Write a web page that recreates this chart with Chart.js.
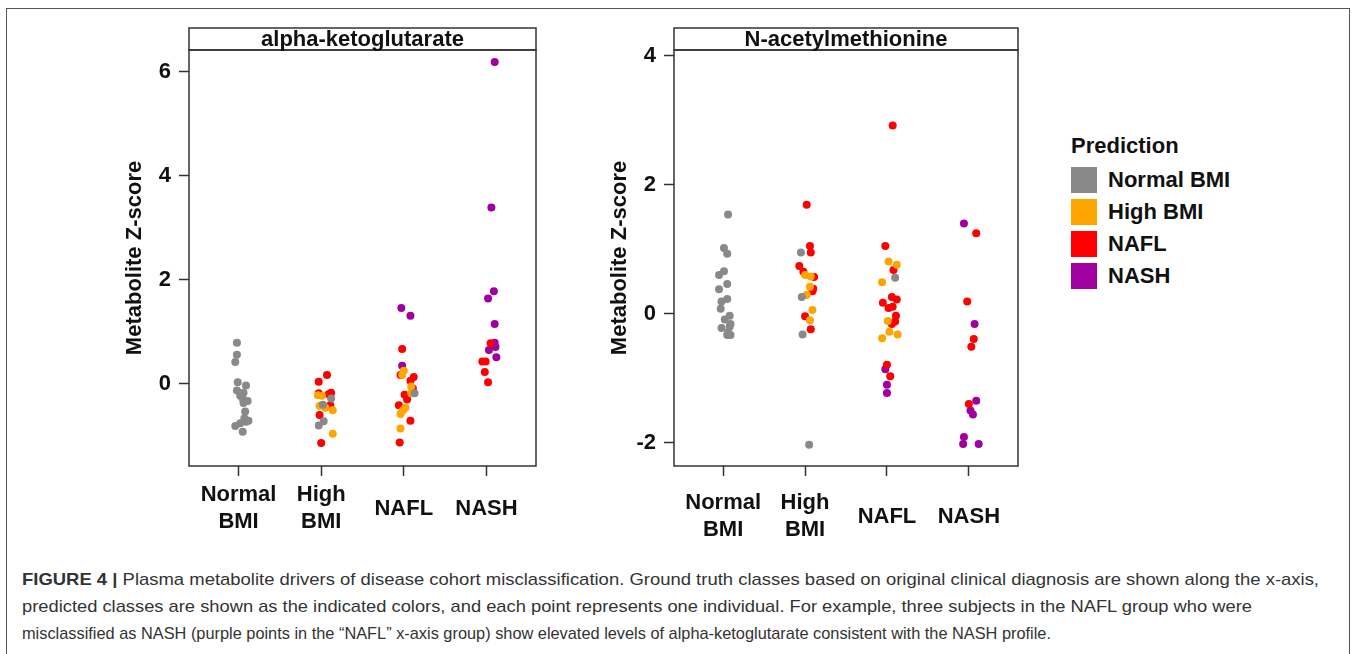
<!DOCTYPE html>
<html>
<head>
<meta charset="utf-8">
<script src="https://cdn.jsdelivr.net/npm/chart.js@4.4.1/dist/chart.umd.min.js"></script>
<style>
  body { margin: 0; background: #fff; width: 1355px; height: 654px; overflow: hidden; position: relative; font-family: "Liberation Sans", Arial, sans-serif; }
  .frame { position: absolute; left: 6px; top: 8px; width: 1342px; height: 700px; border: 1px solid #555; }
  canvas { position: absolute; top: 0; }
  .legend { position: absolute; left: 1071px; top: 0; font-weight: bold; font-size: 22px; color: #111; }
  .legend .ttl { position: absolute; left: 0; top: 133px; white-space: nowrap; }
  .legend .key { position: absolute; left: 0; width: 26px; height: 26px; }
  .legend .lab { position: absolute; left: 37px; white-space: nowrap; line-height: 26px; }
  .caption { position: absolute; left: 22px; top: 566px; font-size: 17px; color: #333; line-height: 27px; }
  .caption div { white-space: nowrap; width: max-content; transform-origin: 0 50%; }
</style>
</head>
<body>
<div class="frame"></div>
<canvas id="akg" width="560" height="560" style="left:0"></canvas>
<canvas id="nam" width="500" height="560" style="left:560px"></canvas>
<div class="legend" id="legend"></div>
<div class="caption" id="caption">
  <div data-w="1297"><b>FIGURE 4 |</b> Plasma metabolite drivers of disease cohort misclassification. Ground truth classes based on original clinical diagnosis are shown along the x-axis,</div>
  <div data-w="1230">predicted classes are shown as the indicated colors, and each point represents one individual. For example, three subjects in the NAFL group who were</div>
  <div data-w="1029">misclassified as NASH (purple points in the “NAFL” x-axis group) show elevated levels of alpha-ketoglutarate consistent with the NASH profile.</div>
</div>
<script>
// ground truth groups along x (1..4), predicted classes as colours
const categories = [['Normal', 'BMI'], ['High', 'BMI'], 'NAFL', 'NASH']
const classes = ['Normal BMI', 'High BMI', 'NAFL', 'NASH']
const classColors = ['#898989', '#ffa500', '#ff0000', '#a000a0']

// alpha-ketoglutarate: [jittered group position, z-score]
const akgNormal = [[0.98,0.79],[0.98,0.56],[0.96,0.42],[0.99,0.03],[1.09,-0.03],[0.98,-0.13],[1.06,-0.17],[1.02,-0.23],[1.05,-0.28],[1.11,-0.33],[1.06,-0.37],[1.08,-0.53],[1.07,-0.66],[1.12,-0.71],[1.09,-0.73],[1.02,-0.76],[0.96,-0.81],[1.05,-0.92],
  [2.12,-0.28],[2.02,-0.40],[2.03,-0.72],[1.97,-0.80],[3.13,-0.18]]
const akgHigh = [[1.96,-0.22],[2.01,-0.23],[1.98,-0.42],[2.05,-0.46],[2.14,-0.51],[2.14,-0.96],
  [3.0,0.25],[2.98,0.17],[3.09,-0.05],[3.09,-0.18],[3.02,-0.46],[2.99,-0.51],[2.96,-0.58],[2.96,-0.86]]
const akgNafl = [[2.07,0.17],[1.97,0.04],[1.97,-0.18],[2.12,-0.17],[2.09,-0.20],[2.11,-0.41],[1.98,-0.60],[2.0,-1.14],
  [2.98,0.67],[2.96,0.17],[3.12,0.13],[3.08,0.06],[3.11,-0.09],[3.01,-0.21],[3.04,-0.30],[2.94,-0.41],[3.08,-0.71],[2.95,-1.13],
  [4.05,0.78],[3.95,0.43],[3.99,0.43],[3.98,0.23],[4.02,0.03]]
const akgNash = [[2.97,1.46],[3.08,1.31],[2.98,0.35],
  [4.10,6.19],[4.06,3.39],[4.09,1.78],[4.02,1.64],[4.10,1.15],[4.10,0.79],[4.11,0.71],[4.03,0.65],[4.12,0.51]]

// N-acetylmethionine
const namNormal = [[1.06,1.54],[1.01,1.02],[1.05,0.93],[1.01,0.66],[0.95,0.60],[1.05,0.46],[0.95,0.38],[1.05,0.23],[0.98,0.19],[0.97,0.08],[1.08,-0.03],[1.02,-0.09],[1.09,-0.16],[1.08,-0.20],[0.98,-0.22],[1.06,-0.29],[1.09,-0.33],[1.05,-0.33],
  [1.95,0.95],[1.96,0.26],[1.97,-0.32],[2.05,-2.03],[3.10,0.56]]
const namHigh = [[2.0,0.60],[2.07,0.58],[2.06,0.42],[2.02,0.29],[2.09,0.06],[2.06,-0.10],
  [3.02,0.81],[3.12,0.76],[2.94,0.49],[3.01,-0.11],[3.03,-0.28],[3.13,-0.32],[2.94,-0.38]]
const namNafl = [[2.02,1.69],[2.06,1.05],[2.07,0.95],[1.93,0.74],[1.98,0.65],[2.11,0.57],[2.10,0.39],[2.09,0.35],[2.0,-0.04],[2.07,-0.24],
  [3.07,2.92],[2.98,1.05],[3.08,0.68],[3.06,0.26],[3.12,0.22],[2.95,0.17],[3.07,0.11],[3.02,0.09],[3.11,-0.03],[3.10,-0.12],[3.06,-0.16],[3.0,-0.79],[3.04,-0.97],
  [4.09,1.25],[3.98,0.19],[4.06,-0.39],[4.03,-0.51],[4.0,-1.40]]
const namNash = [[2.98,-0.86],[3.0,-1.10],[3.0,-1.23],
  [3.94,1.40],[4.07,-0.16],[4.09,-1.35],[4.02,-1.50],[4.05,-1.56],[3.94,-1.91],[3.93,-2.02],[4.12,-2.02]]

const akgTicks = [0, 2, 4, 6]
const namTicks = [-2, 0, 2, 4]

const FONT = "'Liberation Sans', Arial, sans-serif"

const panelFrame = {
    id: 'panelFrame',
    afterDraw(chart, args, opts) {
        const { ctx, chartArea: a } = chart
        ctx.save()
        ctx.strokeStyle = '#333'
        ctx.lineWidth = 1.5
        ctx.strokeRect(a.left, a.top, a.right - a.left, a.bottom - a.top)
        ctx.strokeRect(a.left, a.top - 22, a.right - a.left, 22)
        ctx.fillStyle = '#111'
        ctx.font = 'bold 22px ' + FONT
        ctx.textAlign = 'center'
        ctx.textBaseline = 'middle'
        ctx.fillText(opts.text, (a.left + a.right) / 2, a.top - 10)
        ctx.restore()
    }
}

function makePanel(id, sets, yMin, yMax, yTicks, strip, axisW, titlePad, padRight, xPad) {
    new Chart(document.getElementById(id), {
        type: 'scatter',
        data: {
            datasets: sets.map((pts, i) => ({
                label: classes[i],
                data: pts.map(p => ({ x: p[0], y: p[1] })),
                backgroundColor: classColors[i],
                borderWidth: 0,
                pointRadius: 4,
                pointHoverRadius: 4
            }))
        },
        options: {
            responsive: false,
            animation: false,
            layout: { padding: { top: 50, left: 0, right: padRight, bottom: 0 } },
            plugins: {
                legend: { display: false },
                tooltip: { enabled: false },
                panelFrame: { text: strip }
            },
            scales: {
                x: {
                    type: 'linear',
                    min: 0.4,
                    max: 4.6,
                    afterBuildTicks: s => { s.ticks = [1, 2, 3, 4].map(v => ({ value: v })) },
                    afterFit: s => { s.height = 94 },
                    grid: { drawOnChartArea: false, drawTicks: true, tickLength: 10, tickColor: '#333', tickWidth: 1.5 },
                    border: { display: false },
                    ticks: {
                        callback: v => categories[v - 1],
                        color: '#111',
                        font: { family: FONT, size: 22, weight: 'bold', lineHeight: 1.23 },
                        padding: xPad,
                        crossAlign: 'center',
                        maxRotation: 0,
                        autoSkip: false
                    }
                },
                y: {
                    min: yMin,
                    max: yMax,
                    afterBuildTicks: s => { s.ticks = yTicks.map(v => ({ value: v })) },
                    afterFit: s => { s.width = axisW },
                    grid: { drawOnChartArea: false, drawTicks: true, tickLength: 10, tickColor: '#333', tickWidth: 1.5 },
                    border: { display: false },
                    ticks: {
                        color: '#111',
                        font: { family: FONT, size: 22, weight: 'bold' },
                        padding: 8
                    },
                    title: {
                        display: true,
                        text: 'Metabolite Z-score',
                        color: '#111',
                        font: { family: FONT, size: 22, weight: 'bold' },
                        padding: { top: titlePad, bottom: 0 }
                    }
                }
            }
        },
        plugins: [panelFrame]
    })
}

makePanel('akg', [akgNormal, akgHigh, akgNafl, akgNash], -1.58, 6.42, akgTicks, 'alpha-ketoglutarate', 189, 122, 24, 19)
makePanel('nam', [namNormal, namHigh, namNafl, namNash], -2.36, 4.09, namTicks, 'N-acetylmethionine', 114, 47, 42, 27)

// legend
const legend = document.getElementById('legend')
let html = '<div class="ttl">Prediction</div>'
classes.forEach((c, i) => {
    const cy = 180 + i * 32
    html += `<div class="key" style="top:${cy - 13}px;background:${classColors[i]}"></div>`
    html += `<div class="lab" style="top:${cy - 13}px">${c}</div>`
})
legend.innerHTML = html

// stretch caption lines to the reference widths
document.querySelectorAll('#caption div').forEach(d => {
    const w = d.getBoundingClientRect().width
    d.style.transform = `scaleX(${(+d.dataset.w) / w})`
})
</script>
</body>
</html>
